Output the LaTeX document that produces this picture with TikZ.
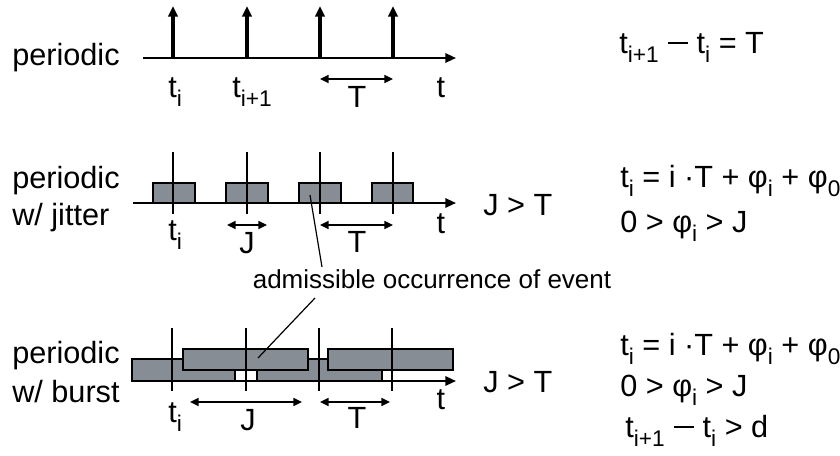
\documentclass[tikz,border=0pt]{standalone}
\usepackage{fontspec}
\setmainfont{Liberation Sans}
\usetikzlibrary{arrows.meta}

% lowered index, sized for the large labels
\newcommand\idx[1]{\raisebox{-0.3em}{\fontsize{17}{17}\selectfont #1}}
% wide minus bar for the difference t(i+1) - t(i)
\newcommand\wdash{\hspace{0.3em}\rule[0.3em]{0.66em}{0.075em}\hspace{0.28em}}

\definecolor{slot}{RGB}{134,141,148}

\begin{document}
\begin{tikzpicture}[x=0.75pt,y=0.75pt,
  lbl/.style={font=\fontsize{23}{23}\selectfont, inner sep=0pt},
  note/.style={font=\fontsize{19.5}{19.5}\selectfont, inner sep=0pt},
  axis/.style={line width=1.5pt, -{Triangle[length=8pt,width=7pt]}},
  pulse/.style={line width=2.4pt, -{Triangle[length=8pt,width=7pt]}},
  mark line/.style={line width=0.9pt},
  span/.style={line width=1.2pt, {Triangle[length=6.5pt,width=6pt]}-{Triangle[length=6.5pt,width=6pt]}},
  slotbox/.style={fill=slot, draw=black, line width=1.4pt}]
\useasboundingbox (0,0) rectangle (840,-455);

%% periodic
\node[lbl, anchor=base west] (p1) at (12,-65) {periodic};
\coordinate (a1s) at (143,-58);
\coordinate (a1e) at (456,-58);
\draw[axis] (a1s) -- (a1e);
\coordinate (e11) at (173,-58);
\coordinate (e12) at (247,-58);
\coordinate (e13) at (320,-58);
\coordinate (e14) at (393,-58);
\draw[pulse] (e11) -- ++(0,52);
\draw[pulse] (e12) -- ++(0,52);
\draw[pulse] (e13) -- ++(0,52);
\draw[pulse] (e14) -- ++(0,52);
\node[lbl, anchor=base west] (ti1) at (168,-97) {t\idx{i}};
\node[lbl, anchor=base west] (tn1) at (232,-97) {t\idx{i+1}};
\node[lbl, anchor=base] (tax1) at (441,-97) {t};
\coordinate (T1s) at (320,-79);
\coordinate (T1e) at (393,-79);
\draw[span] (T1s) -- (T1e);
\node[lbl, anchor=base] (T1) at (357,-107) {T};
\node[lbl, anchor=base west] (f1) at (619,-53) {t\idx{i+1}\wdash t\idx{i} = T};

%% periodic with jitter
\node[lbl, anchor=base west] (p2) at (12,-188) {periodic};
\node[lbl, anchor=base west] (w2) at (12,-225) {w/ jitter};
\coordinate (a2s) at (133,-203);
\coordinate (a2e) at (456,-203);
\draw[slotbox] (153,-203) rectangle (195,-183);
\draw[slotbox] (226,-203) rectangle (268,-183);
\draw[slotbox] (299,-203) rectangle (341,-183);
\draw[slotbox] (372,-203) rectangle (413,-183);
\draw[axis] (a2s) -- (a2e);
\draw[mark line] (173,-152) -- (173,-214);
\draw[mark line] (247,-152) -- (247,-214);
\draw[mark line] (320,-152) -- (320,-214);
\draw[mark line] (393,-152) -- (393,-214);
\node[lbl, anchor=base west] (ti2) at (168,-240) {t\idx{i}};
\coordinate (J2s) at (227,-225);
\coordinate (J2e) at (267,-225);
\draw[span] (J2s) -- (J2e);
\node[lbl, anchor=base] (J2) at (247,-253) {J};
\coordinate (T2s) at (320,-225);
\coordinate (T2e) at (393,-225);
\draw[span] (T2s) -- (T2e);
\node[lbl, anchor=base] (T2) at (357,-252) {T};
\node[lbl, anchor=base] (tax2) at (441,-233) {t};
\node[lbl, anchor=base west] (c2) at (483,-215) {J > T};
\node[lbl, anchor=base west] (f2a) at (620,-187) {t\idx{i} = i ·T + φ\idx{i} + φ\idx{0}};
\node[lbl, anchor=base west] (f2b) at (620,-232) {0 > φ\idx{i} > J};

%% event label, leader into the jitter row
\node[note] (occ) at (432,-279) {admissible occurrence of event};
\coordinate (occ2) at (310,-195);
\coordinate (occ2e) at (322,-267);
\draw[mark line] (occ2) -- (occ2e);

%% periodic with burst
\node[lbl, anchor=base west] (p3) at (12,-363) {periodic};
\node[lbl, anchor=base west] (w3) at (12,-402) {w/ burst};
\coordinate (a3s) at (132,-381);
\coordinate (a3e) at (456,-381);
\draw[axis] (a3s) -- (a3e);
\draw[slotbox] (132,-381) rectangle (235,-359);
\draw[slotbox] (257,-381) rectangle (382,-359);
\draw[slotbox] (183,-370) rectangle (308,-349);
\draw[slotbox] (328,-370) rectangle (453,-349);
\draw[mark line] (172,-328) -- (172,-391);
\draw[mark line] (246,-328) -- (246,-391);
\draw[mark line] (319,-328) -- (319,-391);
\draw[mark line] (392,-328) -- (392,-391);
\coordinate (occ3) at (258,-358);
\coordinate (occ3e) at (315,-298);
\draw[mark line] (occ3) -- (occ3e);
\node[lbl, anchor=base west] (ti3) at (168,-422) {t\idx{i}};
\coordinate (J3s) at (190,-402);
\coordinate (J3e) at (302,-402);
\draw[span] (J3s) -- (J3e);
\node[lbl, anchor=base] (J3) at (248,-430) {J};
\coordinate (T3s) at (320,-402);
\coordinate (T3e) at (390,-402);
\draw[span] (T3s) -- (T3e);
\node[lbl, anchor=base] (T3) at (357,-428) {T};
\node[lbl, anchor=base] (tax3) at (441,-409) {t};
\node[lbl, anchor=base west] (c3) at (483,-392) {J > T};
\node[lbl, anchor=base west] (f3a) at (620,-355) {t\idx{i} = i ·T + φ\idx{i} + φ\idx{0}};
\node[lbl, anchor=base west] (f3b) at (620,-396) {0 > φ\idx{i} > J};
\node[lbl, anchor=base west] (f3c) at (625,-437) {t\idx{i+1}\wdash t\idx{i} > d};
\end{tikzpicture}
\end{document}
